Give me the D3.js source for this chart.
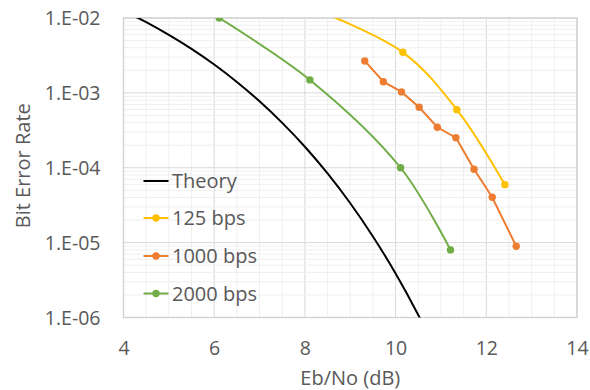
<!DOCTYPE html>
<html><head><meta charset="utf-8">
<script src="https://cdn.jsdelivr.net/npm/d3@7"></script>
<style>
html,body{margin:0;padding:0;background:#fff;}
svg text{font-family:"Open Sans",sans-serif;fill:#595959;}
</style></head>
<body><svg id="c" width="590" height="390"></svg>
<script>
// Data
const theoryX = [4.0,4.5,5.0,5.5,6.0,6.5,7.0,7.5,8.0,8.5,9.0,9.5,10.0,10.5,11.0];
const theoryY = [1.25e-2,8.8e-3,5.95e-3,3.87e-3,2.39e-3,1.40e-3,7.73e-4,3.98e-4,1.91e-4,8.4e-5,3.36e-5,1.21e-5,3.87e-6,1.08e-6,2.6e-7];
const s125X = [8.1,10.16,11.35,12.41];
const s125Y = [1.4e-2,3.48e-3,5.97e-4,5.95e-5];
const s1000X = [9.32,9.73,10.13,10.52,10.92,11.33,11.73,12.13,12.66];
const s1000Y = [2.67e-3,1.41e-3,1.03e-3,6.42e-4,3.47e-4,2.52e-4,9.55e-5,4.04e-5,8.95e-6];
const s2000X = [6.11,8.11,10.11,11.21];
const s2000Y = [1.0e-2,1.49e-3,1.0e-4,8.0e-6];
const xTicks = [4,6,8,10,12,14];
const yTicks = [1e-2,1e-3,1e-4,1e-5,1e-6];
const yTickLabels = ["1.E-02","1.E-03","1.E-04","1.E-05","1.E-06"];
const seriesNames = ["Theory","125 bps","1000 bps","2000 bps"];
const seriesColors = ["#000000","#FFC000","#ED7D31","#70AD47"];

const L=123.5, R=577, T=18, B=317.5;
const svg = d3.select("#c");
const x = d3.scaleLinear().domain([4,14]).range([L,R]);
const y = d3.scaleLog().domain([1e-6,1e-2]).range([B,T]);

// grid
const g = svg.append("g");
const minorX = d3.range(4,14.01,0.5);
g.selectAll(".vx").data(minorX).enter().append("line")
 .attr("x1",d=>x(d)).attr("x2",d=>x(d)).attr("y1",T).attr("y2",B)
 .attr("stroke",d=>(Math.abs(d%2)<1e-9)?"#d9d9d9":"#efefef").attr("stroke-width",1);
const minorY=[];
for(let e=-6;e<-2;e++){for(let m=2;m<=9;m++)minorY.push(m*Math.pow(10,e));}
g.selectAll(".hy").data(minorY).enter().append("line")
 .attr("x1",L).attr("x2",R).attr("y1",d=>y(d)).attr("y2",d=>y(d))
 .attr("stroke","#efefef").attr("stroke-width",1);
g.selectAll(".hM").data(yTicks).enter().append("line")
 .attr("x1",L).attr("x2",R).attr("y1",d=>y(d)).attr("y2",d=>y(d))
 .attr("stroke","#d9d9d9").attr("stroke-width",1);
svg.append("rect").attr("x",L).attr("y",T).attr("width",R-L).attr("height",B-T)
 .attr("fill","none").attr("stroke","#d0d0d0").attr("stroke-width",1.3);

// axes labels
const xAxis = d3.axisBottom(x).tickValues(xTicks).tickSize(0).tickPadding(0).tickFormat(d3.format("d"));
const xa = svg.append("g").attr("transform",`translate(0,${B})`).call(xAxis);
xa.select(".domain").remove();
xa.selectAll("text").attr("dy",null).attr("y",37.5).attr("font-size",19.5);
const yAxis = d3.axisLeft(y).tickValues(yTicks).tickSize(0).tickFormat((d,i)=>yTickLabels[i]);
const ya = svg.append("g").attr("transform",`translate(${L-23},0)`).call(yAxis);
ya.select(".domain").remove();
ya.selectAll("text").attr("x",0).attr("dy","0.35em").attr("font-size",19.5);

svg.append("text").attr("x",(L+R)/2).attr("y",385).attr("text-anchor","middle").attr("font-size",20).text("Eb/No (dB)");
svg.append("text").attr("transform",`translate(30,${(T+B)/2-2}) rotate(-90)`).attr("text-anchor","middle").attr("font-size",20).text("Bit Error Rate");

// clip
svg.append("clipPath").attr("id","clip").append("rect").attr("x",L).attr("y",T).attr("width",R-L).attr("height",B-T);
const plot = svg.append("g").attr("clip-path","url(#clip)");

function pts(xs,ys){return xs.map((v,i)=>[v,ys[i]]);}
const smooth = d3.line().x(d=>x(d[0])).y(d=>y(d[1])).curve(d3.curveCatmullRom.alpha(0.5));
const straight = d3.line().x(d=>x(d[0])).y(d=>y(d[1]));

const series = [
 {data:pts(theoryX,theoryY), line:smooth, markers:false},
 {data:pts(s125X,s125Y), line:smooth, markers:true},
 {data:pts(s1000X,s1000Y), line:straight, markers:true},
 {data:pts(s2000X,s2000Y), line:smooth, markers:true}
];
series.forEach((s,i)=>{
  plot.append("path").attr("d",s.line(s.data)).attr("fill","none")
   .attr("stroke",seriesColors[i]).attr("stroke-width",2);
  if(s.markers){
    plot.selectAll(null).data(s.data.filter(d=>d[1]<=1e-2*1.001)).enter().append("circle")
     .attr("cx",d=>x(d[0])).attr("cy",d=>y(d[1])).attr("r",3.7).attr("fill",seriesColors[i]);
  }
});

// legend
const leg = svg.append("g");
const legY = [181,218,256,293.5];
seriesNames.forEach((n,i)=>{
  leg.append("line").attr("x1",143.5).attr("x2",168.5).attr("y1",legY[i]).attr("y2",legY[i])
   .attr("stroke",seriesColors[i]).attr("stroke-width",2);
  if(i>0) leg.append("circle").attr("cx",156).attr("cy",legY[i]).attr("r",3.7).attr("fill",seriesColors[i]);
  leg.append("text").attr("x",172).attr("y",legY[i]).attr("dy","0.35em").attr("font-size",20).text(n);
});
</script></body></html>
